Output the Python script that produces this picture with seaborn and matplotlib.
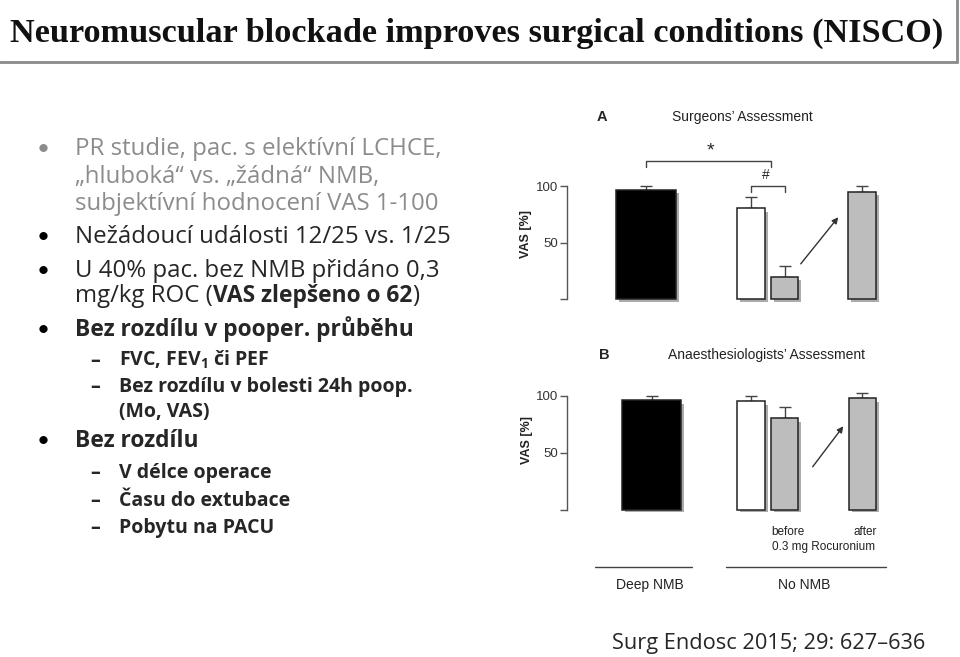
import matplotlib
matplotlib.use('Agg')
import matplotlib.pyplot as plt
import matplotlib.patheffects as pe
import numpy as np
import pandas as pd
import seaborn as sns

# data
conditions = ['Deep NMB', 'No NMB', 'No NMB before Roc', 'No NMB after Roc']
surgeons_vas = [96.5, 80.5, 19.5, 94.7]
surgeons_err = [3.5, 9.5, 9.5, 5.3]
anaesth_vas = [96.0, 95.0, 80.0, 97.7]
anaesth_err = [3.7, 5.0, 10.0, 4.3]
bar_colors = ['black', 'white', '#bdbdbd', '#bdbdbd']

title = 'Neuromuscular blockade improves surgical conditions (NISCO)'
gray_lines = ['PR studie, pac. s elektívní LCHCE,',
              '„hluboká“ vs. „žádná“ NMB,',
              'subjektívní hodnocení VAS 1-100']
citation = 'Surg Endosc 2015; 29: 627–636'

sns.set_style('white')
plt.rcParams['font.family'] = ['Open Sans', 'DejaVu Sans']
plt.rcParams['mathtext.fontset'] = 'custom'
plt.rcParams['mathtext.bf'] = 'Open Sans:bold'

W, H = 960, 657
fig = plt.figure(figsize=(W / 100, H / 100), dpi=100)

# background axes in pixel coordinates for the slide text
bg = fig.add_axes([0, 0, 1, 1])
bg.set_xlim(0, W)
bg.set_ylim(H, 0)
bg.axis('off')

# title bar
bg.text(10, 42, title, fontfamily='Liberation Serif', fontweight='bold',
        fontsize=24.7, va='baseline', color='#111')
bg.plot([0, 957], [62, 62], color='#8a8a8a', lw=2)
bg.plot([957, 957], [0, 62], color='#8a8a8a', lw=2)

main_fs = 17.3
bold_fs = 16.4
sub_fs = 14
txt_x, bul_x, dash_x, sub_x = 75, 37, 90, 119


def bullet(y, color='black'):
    bg.text(bul_x, y, '•', fontsize=16, fontfamily='Lato', color=color, va='baseline')


def dash(y):
    bg.text(dash_x, y, '–', fontsize=sub_fs, fontweight='bold', va='baseline')


bullet(155, '#8c8c8c')
for line, y in zip(gray_lines, [155, 183, 210]):
    bg.text(txt_x, y, line, fontsize=main_fs, color='#8c8c8c', va='baseline')

bullet(243)
bg.text(txt_x, 243, 'Nežádoucí události 12/25 vs. 1/25', fontsize=main_fs, va='baseline')
bullet(277)
bg.text(txt_x, 277, 'U 40% pac. bez NMB přidáno 0,3', fontsize=main_fs, va='baseline')
t1 = bg.text(txt_x, 302, 'mg/kg ROC (', fontsize=main_fs, va='baseline')
t2 = bg.annotate('VAS zlepšeno o 62', xy=(1, 0), xycoords=t1, va='bottom',
                 fontsize=bold_fs, fontweight='bold')
bg.annotate(')', xy=(1, 0), xycoords=t2, va='bottom', fontsize=main_fs)

bullet(336)
bg.text(txt_x, 336, 'Bez rozdílu v pooper. průběhu', fontsize=bold_fs,
        fontweight='bold', va='baseline')
sub_items = [('FVC, FEV$_\\mathbf{1}$ či PEF', 366, True),
             ('Bez rozdílu v bolesti 24h poop.', 392, True),
             ('(Mo, VAS)', 417, False)]
for s, y, has_dash in sub_items:
    if has_dash:
        dash(y)
    bg.text(sub_x, y, s, fontsize=sub_fs, fontweight='bold', va='baseline')

bullet(447)
bg.text(txt_x, 447, 'Bez rozdílu', fontsize=bold_fs, fontweight='bold', va='baseline')
for s, y in zip(['V délce operace', 'Času do extubace', 'Pobytu na PACU'], [478, 506, 533]):
    dash(y)
    bg.text(sub_x, y, s, fontsize=sub_fs, fontweight='bold', va='baseline')

bg.text(612, 649, citation, fontsize=15.7, va='baseline')


def px_axes(left, top, right, bottom, y0px, y100px):
    ax = fig.add_axes([left / W, 1 - bottom / H, (right - left) / W, (bottom - top) / H])
    k = (y0px - y100px) / 100.0
    ax.set_ylim((y0px - bottom) / k, (y0px - top) / k)
    return ax


def draw_panel(ax, values, errs, pos, widths):
    df = pd.DataFrame({'cond': conditions, 'vas': values})
    sns.barplot(data=df, x='cond', y='vas', hue='cond', order=conditions,
                hue_order=conditions, palette=bar_colors, legend=False,
                errorbar=None, edgecolor='#222', linewidth=1.1, ax=ax, zorder=3)
    for patch, x, w in zip(ax.patches, pos, widths):
        patch.set_x(x - w / 2)
        patch.set_width(w)
        patch.set_path_effects([pe.SimplePatchShadow(offset=(2.5, -2.5), shadow_rgbFace='#888', alpha=0.7),
                                pe.Normal()])
    ax.errorbar(pos, values, yerr=[np.zeros(len(values)), errs], fmt='none',
                ecolor='#444', elinewidth=1, capsize=4.5, capthick=1, zorder=2)
    ax.set_xlim(567, 905)
    ax.set_facecolor('none')
    for side in ['top', 'right', 'bottom']:
        ax.spines[side].set_visible(False)
    ax.spines['left'].set_bounds(0, 100)
    ax.spines['left'].set_color('#555')
    ax.spines['left'].set_linewidth(1)
    ax.set_xticks([])
    ax.set_yticks([0, 50, 100], ['', '50', '100'])
    ax.tick_params(axis='y', length=5, width=1, color='#555', labelsize=9.5,
                   labelcolor='#333', pad=1.5, left=True)
    for lab in ax.get_yticklabels():
        lab.set_fontfamily('Liberation Sans')
    ax.set_xlabel('')
    ax.set_ylabel('')


arial = 'Liberation Sans'

# panel A
axA = px_axes(567, 130, 905, 305, 299, 186)
draw_panel(axA, surgeons_vas, surgeons_err, [646, 751, 784.5, 862], [60, 28, 27, 28])
axA.plot([646, 646, 771, 771], [117, 122, 122, 117], color='#444', lw=1)
axA.text(710, 131, '*', ha='center', va='center', fontsize=14, fontfamily=arial)
axA.plot([751, 751, 784.5, 784.5], [95, 100, 100, 95], color='#444', lw=1)
axA.text(766, 110, '#', ha='center', va='center', fontsize=10, fontfamily=arial)
axA.annotate('', xy=(840, 74.3), xytext=(799, 29.2),
             arrowprops=dict(arrowstyle='-|>', color='#333', lw=1, mutation_scale=9))
bg.text(602, 117, 'A', fontsize=10.5, fontweight='bold', fontfamily=arial, ha='center', va='center')
bg.text(742, 117, 'Surgeons’ Assessment', fontsize=10, fontfamily=arial, ha='center', va='center', color='#222')
bg.text(526, 234, 'VAS [%]', fontsize=9, fontweight='bold', fontfamily=arial,
        rotation=90, ha='center', va='center', color='#222')

# panel B
axB = px_axes(567, 370, 905, 512, 509.5, 395.7)
draw_panel(axB, anaesth_vas, anaesth_err, [651.5, 751, 784.5, 862.5], [59, 28, 27, 27])
axB.annotate('', xy=(845, 75.1), xytext=(811, 35.6),
             arrowprops=dict(arrowstyle='-|>', color='#333', lw=1, mutation_scale=9))
bg.text(604, 355, 'B', fontsize=10.5, fontweight='bold', fontfamily=arial, ha='center', va='center')
bg.text(767, 355, 'Anaesthesiologists’ Assessment', fontsize=10, fontfamily=arial,
        ha='center', va='center', color='#222')
bg.text(527, 440, 'VAS [%]', fontsize=9, fontweight='bold', fontfamily=arial,
        rotation=90, ha='center', va='center', color='#222')

bg.text(788, 532, 'before', fontsize=8.5, fontfamily=arial, ha='center', va='center', color='#222')
bg.text(865.5, 532, 'after', fontsize=8.5, fontfamily=arial, ha='center', va='center', color='#222')
bg.text(824, 547, '0.3 mg Rocuronium', fontsize=8.5, fontfamily=arial, ha='center', va='center', color='#222')
bg.plot([595, 692], [567, 567], color='#444', lw=1)
bg.plot([726, 886], [567, 567], color='#444', lw=1)
bg.text(650, 585, 'Deep NMB', fontsize=10, fontfamily=arial, ha='center', va='center', color='#222')
bg.text(804, 585, 'No NMB', fontsize=10, fontfamily=arial, ha='center', va='center', color='#222')

fig.savefig('out.png', dpi=100)
